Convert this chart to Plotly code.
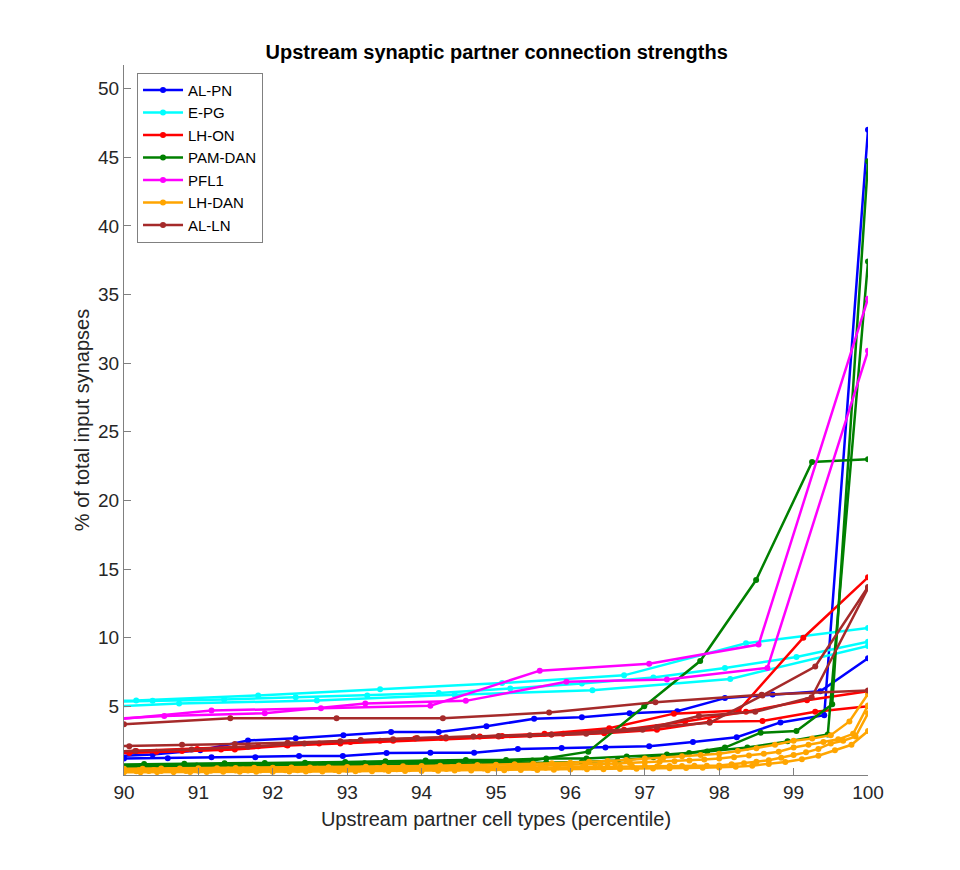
import plotly.graph_objects as go

# each neuron: number of upstream partner types (sets the percentile step)
# and its sorted % of input synapses for the top-ranked partner types

# AL-PN
al_pn_a_n = 170
al_pn_a = [1.15, 1.2, 1.22, 1.3, 1.3, 1.38, 1.38, 1.6, 1.62, 1.62, 1.9, 1.96, 2.0, 2.1, 2.4, 2.75, 3.83, 4.35, 47.0]
al_pn_b_n = 156
al_pn_b = [1.35, 1.5, 1.8, 2.52, 2.67, 2.9, 3.13, 3.13, 3.55, 4.1, 4.2, 4.5, 4.65, 5.6, 5.87, 6.1, 8.5]

# E-PG
e_pg_a_n = 61
e_pg_a = [5.3, 5.42, 5.8, 6.24, 6.7, 7.26, 9.6, 10.7]
e_pg_b_n = 104
e_pg_b = [5.3, 5.4, 5.5, 5.66, 5.8, 5.97, 6.3, 6.67, 7.1, 7.8, 8.6, 9.7]
e_pg_c_n = 54
e_pg_c = [4.75, 5.2, 5.43, 5.85, 6.17, 7.0, 9.4]

# LH-ON
lh_on_a_n = 115
lh_on_a = [1.55, 1.7, 1.85, 2.2, 2.4, 2.65, 2.8, 3.0, 3.4, 4.47, 4.7, 10.0, 14.4]
lh_on_b_n = 122
lh_on_b = [1.6, 1.75, 1.9, 2.1, 2.3, 2.5, 2.7, 2.85, 3.0, 3.3, 3.9, 4.6, 5.44, 6.1]
lh_on_c_n = 141
lh_on_c = [1.5, 1.6, 1.75, 1.85, 2.15, 2.3, 2.5, 2.65, 2.8, 2.95, 3.05, 3.3, 3.88, 3.93, 4.6, 5.0]

# PAM-DAN
pam_dan_a_n = 133
pam_dan_a = [0.6, 0.65, 0.7, 0.75, 0.8, 0.85, 0.9, 0.95, 1.05, 1.7, 5.0, 8.3, 14.2, 22.8, 23.0]
pam_dan_b_n = 185
pam_dan_b = [0.75, 0.8, 0.82, 0.85, 0.88, 0.9, 0.95, 1.0, 1.06, 1.1, 1.1, 1.2, 1.2, 1.35, 1.5,
             1.72, 2.0, 2.45, 2.95, 37.4]
pam_dan_c_n = 208
pam_dan_c = [0.55, 0.58, 0.6, 0.62, 0.65, 0.68, 0.7, 0.72, 0.75, 0.78, 0.8, 0.85, 0.9, 0.95,
             1.05, 1.3, 1.6, 2.0, 3.08, 3.2, 5.15, 44.7]

# PFL1
pfl1_a_n = 68
pfl1_a = [3.95, 4.7, 4.86, 5.05, 7.6, 8.1, 9.5, 34.7]
pfl1_b_n = 74
pfl1_b = [3.9, 4.3, 4.5, 5.2, 5.4, 6.8, 6.95, 7.8, 30.9]

# LH-DAN
lh_dan_a_n = 400
lh_dan_a = [0.45, 0.46, 0.47, 0.48, 0.49, 0.5, 0.51, 0.52,
            0.53, 0.54, 0.55, 0.56, 0.58, 0.6, 0.62, 0.64,
            0.66, 0.68, 0.7, 0.72, 0.75, 0.78, 0.82, 0.86,
            0.9, 0.96, 1.02, 1.1, 1.2, 1.28, 1.36, 1.45,
            1.55, 1.75, 1.95, 2.2, 2.5, 2.65, 2.9, 3.9, 5.9]
lh_dan_b_n = 500
lh_dan_b = [0.35, 0.35, 0.36, 0.37, 0.37, 0.38, 0.39, 0.4, 0.4, 0.41,
            0.42, 0.43, 0.44, 0.45, 0.46, 0.47, 0.48, 0.5, 0.51, 0.52,
            0.54, 0.55, 0.57, 0.59, 0.6, 0.62, 0.64, 0.66, 0.68, 0.71,
            0.74, 0.77, 0.8, 0.84, 0.88, 0.92, 0.96, 1.0, 1.05, 1.12,
            1.2, 1.3, 1.42, 1.55, 1.7, 2.0, 2.2, 2.4, 2.6, 3.0, 5.07]
lh_dan_c_n = 600
lh_dan_c = [0.28, 0.28, 0.29, 0.29, 0.3, 0.3, 0.31, 0.31, 0.32, 0.32, 0.33, 0.33,
            0.34, 0.34, 0.35, 0.35, 0.36, 0.36, 0.37, 0.38, 0.39, 0.4, 0.41, 0.41,
            0.42, 0.43, 0.44, 0.45, 0.46, 0.47, 0.48, 0.49, 0.5, 0.51, 0.52, 0.54,
            0.55, 0.56, 0.57, 0.58, 0.6, 0.61, 0.63, 0.64, 0.65, 0.66, 0.67, 0.68,
            0.7, 0.78, 0.86, 0.96, 1.08, 1.25, 1.45, 1.65, 1.9, 2.3, 2.5, 2.8, 4.5]
lh_dan_d_n = 450
lh_dan_d = [0.2, 0.2, 0.21, 0.21, 0.22, 0.22, 0.23, 0.23, 0.24,
            0.24, 0.25, 0.25, 0.26, 0.27, 0.27, 0.28, 0.29, 0.3,
            0.3, 0.31, 0.32, 0.33, 0.34, 0.35, 0.36, 0.37, 0.38,
            0.4, 0.41, 0.42, 0.44, 0.46, 0.48, 0.5, 0.51, 0.53,
            0.55, 0.6, 0.68, 0.8, 0.95, 1.15, 1.4, 1.8, 2.2, 3.2]

# AL-LN
al_ln_a_n = 70
al_ln_a = [3.7, 4.13, 4.13, 4.13, 4.55, 5.3, 5.85, 6.15]
al_ln_b_n = 141
al_ln_b = [2.05, 2.1, 2.2, 2.25, 2.35, 2.45, 2.6, 2.75, 2.85, 2.95, 3.2, 3.5, 3.8, 5.8, 7.9, 13.7]
al_ln_c_n = 132
al_ln_c = [1.65, 1.75, 1.85, 2.05, 2.3, 2.55, 2.7, 2.8, 2.9, 3.0, 3.3, 4.3, 4.6, 5.66, 13.6]

cell_types = ['AL-PN', 'E-PG', 'LH-ON', 'PAM-DAN', 'PFL1', 'LH-DAN', 'AL-LN']
colors = ['#0000ff', '#00ffff', '#ff0000', '#008000', '#ff00ff', '#ffa500', '#a52a2a']
neurons = [
    [(al_pn_a_n, al_pn_a), (al_pn_b_n, al_pn_b)],
    [(e_pg_a_n, e_pg_a), (e_pg_b_n, e_pg_b), (e_pg_c_n, e_pg_c)],
    [(lh_on_a_n, lh_on_a), (lh_on_b_n, lh_on_b), (lh_on_c_n, lh_on_c)],
    [(pam_dan_a_n, pam_dan_a), (pam_dan_b_n, pam_dan_b), (pam_dan_c_n, pam_dan_c)],
    [(pfl1_a_n, pfl1_a), (pfl1_b_n, pfl1_b)],
    [(lh_dan_a_n, lh_dan_a), (lh_dan_b_n, lh_dan_b), (lh_dan_c_n, lh_dan_c), (lh_dan_d_n, lh_dan_d)],
    [(al_ln_a_n, al_ln_a), (al_ln_b_n, al_ln_b), (al_ln_c_n, al_ln_c)],
]

fig = go.Figure()
for name, col, group in zip(cell_types, colors, neurons):
    for i, (n, vals) in enumerate(group):
        # percentile rank of each of the top partner types
        first = n - len(vals) + 1
        pct = [100.0 * r / n for r in range(first, n + 1)]
        fig.add_trace(go.Scatter(
            x=pct, y=vals, mode='lines+markers', name=name,
            legendgroup=name, showlegend=(i == 0),
            line=dict(color=col, width=2.5),
            marker=dict(color=col, size=6),
        ))

axis_col = '#808080'
fig.update_layout(
    width=960, height=870,
    margin=dict(l=116, r=100, t=57, b=103),
    paper_bgcolor='white', plot_bgcolor='white',
    font=dict(family='Arial, Liberation Sans, sans-serif', color='#262626', size=19),
    title=dict(text='<b>Upstream synaptic partner connection strengths</b>',
               x=0.509, xanchor='center', y=0.949, yanchor='middle',
               font=dict(size=20, color='black')),
    showlegend=True,
    legend=dict(x=0.0175, y=0.989, xanchor='left', yanchor='top',
                bgcolor='white', bordercolor=axis_col, borderwidth=1,
                font=dict(size=15, color='black'), itemwidth=40,
                tracegroupgap=0),
    xaxis=dict(range=[90, 100], tickvals=list(range(90, 101)),
               ticks='inside', ticklen=7, tickcolor=axis_col,
               showline=True, linecolor=axis_col, linewidth=1,
               showgrid=False, zeroline=False, mirror=False, automargin=False,
               title=dict(text='Upstream partner cell types (percentile)',
                          font=dict(size=20), standoff=10)),
    yaxis=dict(range=[0, 51.72], tickvals=list(range(5, 51, 5)),
               ticks='inside', ticklen=7, tickcolor=axis_col,
               showline=True, linecolor=axis_col, linewidth=1,
               showgrid=False, zeroline=False, mirror=False, automargin=False,
               title=dict(text='% of total input synapses',
                          font=dict(size=20), standoff=3)),
)

fig.write_html('out.html')
